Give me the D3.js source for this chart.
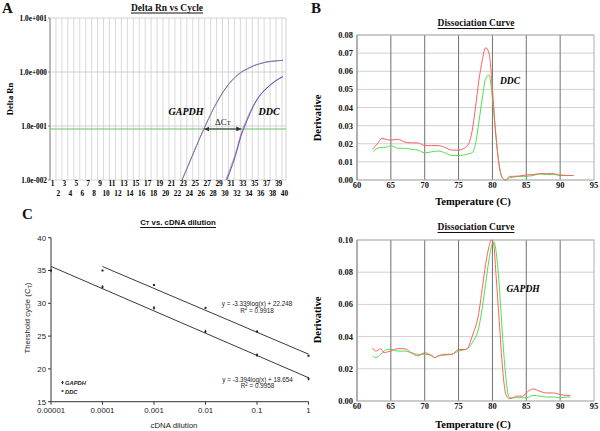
<!DOCTYPE html>
<html><head><meta charset="utf-8">
<script src="https://cdn.jsdelivr.net/npm/d3@7"></script>
<style>body{margin:0;background:#fff}svg{display:block}text{-webkit-font-smoothing:antialiased}</style>
</head><body>
<script>
// ---------- Panel A data ----------
const cycleTicks = d3.range(1, 41);
const gapdhCyc = [22.5, 23, 24, 25, 26, 27, 28, 29, 30, 31, 32, 33, 34, 35, 36, 37, 38, 39, 40];
const gapdhRn1 = [0.0075, 0.010, 0.018, 0.033, 0.060, 0.105, 0.18, 0.29, 0.44, 0.62, 0.82, 1.00, 1.15, 1.30, 1.42, 1.52, 1.58, 1.62, 1.65];
const gapdhRn2 = [0.0074, 0.0098, 0.0177, 0.0325, 0.059, 0.104, 0.178, 0.288, 0.438, 0.615, 0.81, 0.99, 1.14, 1.29, 1.41, 1.51, 1.57, 1.61, 1.64];
const ddcCyc = [30, 31, 32, 33, 34, 35, 36, 37, 38, 39, 40];
const ddcRn1 = [0.0080, 0.0150, 0.031, 0.075, 0.14, 0.24, 0.36, 0.48, 0.60, 0.72, 0.83];
const ddcRn2 = [0.0070, 0.0135, 0.028, 0.068, 0.13, 0.23, 0.35, 0.47, 0.59, 0.71, 0.82];
const rnTicks = [10, 1, 0.1, 0.01];
const rnTickLabels = ["1.0e+001", "1.0e+000", "1.0e-001", "1.0e-002"];
const threshold = 0.088;
const ctGapdh = 26.6, ctDdc = 33.15;

// ---------- Panel B data ----------
const tempTicks = [60, 65, 70, 75, 80, 85, 90, 95];
const ddcTemp = [62.3,63,63.7,64.5,65,66,67,68,69,70,71,72,73,74,75,76,76.5,77,77.5,78,78.5,79,79.5,80,80.5,81,81.5,82,82.5,83,84,85,86,87,88,89,90,91,92];
const ddcDerivRed = [0.017,0.020,0.023,0.0222,0.022,0.0225,0.021,0.0205,0.0205,0.019,0.019,0.019,0.018,0.0165,0.0165,0.018,0.020,0.027,0.040,0.055,0.066,0.073,0.070,0.050,0.025,0.008,0.001,0.000,0.002,0.002,0.0022,0.0028,0.003,0.0035,0.0035,0.0035,0.0025,0.0025,0.0025];
const ddcDerivGreen = [0.0155,0.0175,0.018,0.0182,0.019,0.0175,0.0175,0.017,0.0165,0.015,0.0155,0.016,0.015,0.0135,0.0135,0.014,0.0145,0.015,0.020,0.032,0.045,0.056,0.058,0.045,0.025,0.008,0.001,0.000,0.0012,0.0015,0.002,0.002,0.0025,0.0033,0.003,0.003,0.0028,0.0025,0.0025];
const ddcDerivTicks = [0, 0.01, 0.02, 0.03, 0.04, 0.05, 0.06, 0.07, 0.08];

const gapdhTemp = [62.3,62.8,63.5,64,64.5,65,66,67,68,69,70,71,71.5,72,73,74,75,76,76.5,77,78,78.5,79,79.5,79.8,80.2,80.5,81,81.5,82,82.5,83,83.5,84,84.5,85,86,87,88,89,90,91,91.5];
const gapdhDerivRed = [0.033,0.031,0.0325,0.030,0.0305,0.031,0.0325,0.0325,0.030,0.028,0.030,0.028,0.027,0.028,0.029,0.029,0.032,0.032,0.034,0.040,0.055,0.070,0.085,0.096,0.100,0.097,0.080,0.050,0.020,0.004,0.0015,0.002,0.003,0.003,0.003,0.005,0.0075,0.006,0.005,0.005,0.004,0.0035,0.0035];
const gapdhDerivGreen = [0.028,0.027,0.029,0.031,0.032,0.032,0.031,0.031,0.030,0.029,0.029,0.0285,0.027,0.028,0.0285,0.029,0.031,0.032,0.033,0.036,0.046,0.058,0.073,0.088,0.095,0.099,0.094,0.072,0.040,0.014,0.002,0.002,0.002,0.002,0.002,0.002,0.0035,0.003,0.0025,0.0025,0.002,0.0025,0.0025];
const gapdhDerivTicks = [0, 0.02, 0.04, 0.06, 0.08, 0.10];

// ---------- Panel C data ----------
const dilutions = [0.00001, 0.0001, 0.001, 0.01, 0.1, 1];
const dilutionLabels = ["0.00001", "0.0001", "0.001", "0.01", "0.1", "1"];
const ctTicks = [15, 20, 25, 30, 35, 40];
const gapdhCt = [35.0, 32.5, 29.3, 25.7, 22.1, 18.5];
const ddcCt = [null, 35.0, 32.8, 29.3, 25.7, 22.0];
const ddcFit = {slope: -3.339, intercept: 22.248, r2: "0.9918", from: 0.0001, to: 1};
const gapdhFit = {slope: -3.394, intercept: 18.654, r2: "0.9958", from: 0.00001, to: 1};

const serif = "'Liberation Serif', 'Times New Roman', serif";
const sans = "'Liberation Sans', Arial, sans-serif";

const svg = d3.select("body").append("svg").attr("width", 600).attr("height", 431);
const defs = svg.append("defs");

function underlinedTitle(x, y, font, size) {
  return svg.append("text").attr("x", x).attr("y", y).attr("text-anchor", "middle")
    .attr("font-family", font).attr("font-size", size).attr("font-weight", "bold").attr("fill", "#111");
}
function drawUnderline(t) {
  const b = t.node().getBBox();
  svg.append("line").attr("x1", b.x).attr("x2", b.x + b.width)
    .attr("y1", b.y + b.height + 0.5).attr("y2", b.y + b.height + 0.5)
    .attr("stroke", "#111").attr("stroke-width", 1);
}
function panelLetter(x, y, l) {
  svg.append("text").attr("x", x).attr("y", y).attr("font-family", serif)
    .attr("font-size", 15).attr("font-weight", "bold").attr("fill", "#111").text(l);
}

// ================= PANEL A =================
{
  const L = 50, R = 286, T = 18, B = 180;
  const x = d3.scaleLinear().domain([1, 40]).range([51, 283]);
  const y = d3.scaleLog().domain([0.01, 10]).range([B, T]);
  const g = svg.append("g");
  defs.append("clipPath").attr("id", "clipA")
    .append("rect").attr("x", L).attr("y", T).attr("width", R - L).attr("height", B - T);
  g.selectAll("line.vg").data(cycleTicks).join("line").attr("class", "vg")
    .attr("x1", d => x(d) - 1).attr("x2", d => x(d) - 1).attr("y1", T).attr("y2", B)
    .attr("stroke", "#cfcfcf").attr("stroke-width", 0.8);
  g.append("line").attr("x1", R).attr("x2", R).attr("y1", T).attr("y2", B).attr("stroke", "#cfcfcf");
  g.selectAll("line.hg").data(rnTicks).join("line").attr("class", "hg")
    .attr("x1", L).attr("x2", R).attr("y1", d => y(d)).attr("y2", d => y(d))
    .attr("stroke", "#c8c8c8").attr("stroke-width", 0.8);
  g.append("line").attr("x1", L).attr("x2", L).attr("y1", T).attr("y2", B).attr("stroke", "#888");
  g.selectAll("text.yl").data(rnTicks).join("text").attr("class", "yl")
    .attr("x", L - 3).attr("y", d => y(d) + 2.5).attr("text-anchor", "end")
    .attr("font-family", serif).attr("font-size", 7.3).attr("font-weight", "bold").attr("fill", "#000")
    .text((d, i) => rnTickLabels[i]);
  g.selectAll("line.yt").data(rnTicks).join("line").attr("class", "yt")
    .attr("x1", L - 2).attr("x2", L).attr("y1", d => y(d)).attr("y2", d => y(d)).attr("stroke", "#888");
  g.selectAll("text.xl").data(cycleTicks).join("text").attr("class", "xl")
    .attr("x", d => x(d) + 1.5).attr("y", d => d % 2 === 1 ? 186 : 196).attr("text-anchor", "middle")
    .attr("font-family", serif).attr("font-size", 7.3).attr("font-weight", "bold").attr("fill", "#000")
    .text(d => d);
  g.append("line").attr("x1", L).attr("x2", R).attr("y1", y(threshold)).attr("y2", y(threshold))
    .attr("stroke", "#6cc06c").attr("stroke-width", 1);
  const line = (xs) => d3.line().x((d, i) => x(xs[i])).y(d => y(d)).curve(d3.curveMonotoneX);
  const cg = g.append("g").attr("clip-path", "url(#clipA)").attr("fill", "none").attr("stroke-width", 1);
  cg.append("path").attr("d", line(gapdhCyc)(gapdhRn1)).attr("stroke", "#c890b0");
  cg.append("path").attr("d", line(gapdhCyc)(gapdhRn2)).attr("stroke", "#7878a8");
  cg.append("path").attr("d", line(ddcCyc)(ddcRn1)).attr("stroke", "#c890b0");
  cg.append("path").attr("d", line(ddcCyc)(ddcRn2)).attr("stroke", "#5a5ac0");
  defs.append("marker").attr("id", "ah").attr("viewBox", "0 0 10 10").attr("refX", 10).attr("refY", 5)
    .attr("markerWidth", 5).attr("markerHeight", 5).attr("orient", "auto-start-reverse")
    .append("path").attr("d", "M0,0 L10,5 L0,10 z").attr("fill", "#333");
  g.append("line").attr("x1", x(ctGapdh) + 1).attr("x2", x(ctDdc) - 1)
    .attr("y1", y(threshold)).attr("y2", y(threshold)).attr("stroke", "#333").attr("stroke-width", 1)
    .attr("marker-start", "url(#ah)").attr("marker-end", "url(#ah)");
  const dt = g.append("text").attr("x", (x(ctGapdh) + x(ctDdc)) / 2).attr("y", y(threshold) - 4)
    .attr("text-anchor", "middle").attr("font-family", serif).attr("font-size", 9).attr("fill", "#111");
  dt.append("tspan").text("ΔC");
  dt.append("tspan").attr("font-size", 6.5).text("T");
  g.append("text").attr("x", 186).attr("y", 115).attr("text-anchor", "middle")
    .attr("font-family", serif).attr("font-size", 10).attr("font-weight", "bold").attr("font-style", "italic").text("GAPDH");
  g.append("text").attr("x", 269).attr("y", 115).attr("text-anchor", "middle")
    .attr("font-family", serif).attr("font-size", 10).attr("font-weight", "bold").attr("font-style", "italic").text("DDC");
  g.append("text").attr("transform", "translate(13,99) rotate(-90)").attr("text-anchor", "middle")
    .attr("font-family", serif).attr("font-size", 8.5).attr("font-weight", "bold").text("Delta Rn");
  const tA = underlinedTitle(167, 10.5, serif, 9.5).text("Delta Rn vs Cycle");
  drawUnderline(tA);
  panelLetter(2, 13, "A");
}

// ================= PANEL B =================
function dissoc(top, bottom, domainMax, ticks, temps, red, green, titleY, geneLabel, gx, gy, xlabY, ylabY) {
  const L = 357, R = 594;
  const x = d3.scaleLinear().domain([60, 95]).range([L, R]);
  const y = d3.scaleLinear().domain([0, domainMax]).range([bottom, top]);
  const g = svg.append("g");
  g.selectAll("line.hg").data(ticks).join("line").attr("class", "hg")
    .attr("x1", L).attr("x2", R).attr("y1", d => y(d)).attr("y2", d => y(d))
    .attr("stroke", "#d0d0d0").attr("stroke-width", 1);
  g.selectAll("line.vg").data(tempTicks.slice(1, -1)).join("line").attr("class", "vg")
    .attr("x1", d => x(d)).attr("x2", d => x(d)).attr("y1", top).attr("y2", bottom)
    .attr("stroke", "#707070").attr("stroke-width", 1);
  g.append("rect").attr("x", L).attr("y", top).attr("width", R - L).attr("height", bottom - top)
    .attr("fill", "none").attr("stroke", "#b0b0b0");
  g.append("line").attr("x1", L).attr("x2", L).attr("y1", top).attr("y2", bottom).attr("stroke", "#888");
  g.selectAll("text.yl").data(ticks).join("text").attr("class", "yl")
    .attr("x", L - 4).attr("y", d => y(d) + 3).attr("text-anchor", "end")
    .attr("font-family", serif).attr("font-size", 8.5).attr("font-weight", "bold").attr("fill", "#111")
    .text(d => d3.format(".2f")(d));
  g.selectAll("text.xl").data(tempTicks).join("text").attr("class", "xl")
    .attr("x", d => x(d)).attr("y", bottom + 8).attr("text-anchor", "middle")
    .attr("font-family", serif).attr("font-size", 8.5).attr("font-weight", "bold").attr("fill", "#111")
    .text(d => d);
  const line = d3.line().x((d, i) => x(temps[i])).y(d => y(d)).curve(d3.curveMonotoneX);
  g.append("path").attr("d", line(green)).attr("fill", "none").attr("stroke", "#4ee04e").attr("stroke-width", 1);
  g.append("path").attr("d", line(red)).attr("fill", "none").attr("stroke", "#ff6060").attr("stroke-width", 1);
  g.append("text").attr("x", gx).attr("y", gy).attr("text-anchor", "middle")
    .attr("font-family", serif).attr("font-size", 9.5).attr("font-weight", "bold").attr("font-style", "italic").text(geneLabel);
  g.append("text").attr("x", 473).attr("y", xlabY).attr("text-anchor", "middle")
    .attr("font-family", serif).attr("font-size", 10.5).attr("font-weight", "bold").text("Temperature (C)");
  g.append("text").attr("transform", `translate(321,${ylabY}) rotate(-90)`).attr("text-anchor", "middle")
    .attr("font-family", serif).attr("font-size", 10.5).attr("font-weight", "bold").text("Derivative");
  const t = underlinedTitle(476, titleY, serif, 9.5).text("Dissociation Curve");
  drawUnderline(t);
}
dissoc(35, 180, 0.08, ddcDerivTicks, ddcTemp, ddcDerivRed, ddcDerivGreen, 26, "DDC", 510, 84, 205, 118);
dissoc(240, 401, 0.10, gapdhDerivTicks, gapdhTemp, gapdhDerivRed, gapdhDerivGreen, 230, "GAPDH", 523, 292, 428, 320);
panelLetter(311, 13, "B");

// ================= PANEL C =================
{
  const L = 51, T = 237.7, B = 401.7, R = 308.5;
  const x = d3.scaleLog().domain([0.00001, 1]).range([L, R]);
  const y = d3.scaleLinear().domain([15, 40]).range([B, T]);
  const g = svg.append("g");
  g.append("line").attr("x1", L).attr("x2", L).attr("y1", T).attr("y2", B).attr("stroke", "#333");
  g.append("line").attr("x1", L).attr("x2", R).attr("y1", B).attr("y2", B).attr("stroke", "#333");
  g.selectAll("line.yt").data(ctTicks).join("line").attr("class", "yt")
    .attr("x1", L - 3).attr("x2", L).attr("y1", d => y(d)).attr("y2", d => y(d)).attr("stroke", "#333");
  g.selectAll("text.yl").data(ctTicks).join("text").attr("class", "yl")
    .attr("x", L - 5).attr("y", d => y(d) + 2.8).attr("text-anchor", "end")
    .attr("font-family", sans).attr("font-size", 7.8).attr("fill", "#222").text(d => d);
  g.selectAll("line.xt").data(dilutions).join("line").attr("class", "xt")
    .attr("x1", d => x(d)).attr("x2", d => x(d)).attr("y1", B).attr("y2", B + 3).attr("stroke", "#333");
  g.selectAll("text.xl").data(dilutions).join("text").attr("class", "xl")
    .attr("x", d => x(d)).attr("y", B + 11).attr("text-anchor", "middle")
    .attr("font-family", sans).attr("font-size", 7.8).attr("fill", "#222").text((d, i) => dilutionLabels[i]);
  [ddcFit, gapdhFit].forEach(f => {
    const pts = [f.from, f.to].map(v => [x(v), y(f.slope * Math.log10(v) + f.intercept)]);
    g.append("path").attr("d", d3.line()(pts)).attr("stroke", "#222").attr("stroke-width", 0.9).attr("fill", "none");
  });
  g.selectAll("path.gp").data(dilutions).join("path").attr("class", "gp")
    .attr("transform", (d, i) => `translate(${x(d)},${y(gapdhCt[i])})`)
    .attr("d", d3.symbol().type(d3.symbolDiamond).size(5)).attr("fill", "#222");
  const ddcPts = dilutions.map((d, i) => [d, ddcCt[i]]).filter(p => p[1] !== null);
  g.selectAll("path.dp").data(ddcPts).join("path").attr("class", "dp")
    .attr("transform", p => `translate(${x(p[0])},${y(p[1])})`)
    .attr("d", d3.symbol().type(d3.symbolSquare).size(4)).attr("fill", "#222");
  const eq = (cx, cy, f) => {
    g.append("text").attr("x", cx).attr("y", cy).attr("text-anchor", "middle")
      .attr("font-family", sans).attr("font-size", 6.3).attr("fill", "#222")
      .text(`y = ${f.slope}log(x) + ${f.intercept}`);
    const r = g.append("text").attr("x", cx).attr("y", cy + 6.5).attr("text-anchor", "middle")
      .attr("font-family", sans).attr("font-size", 6.3).attr("fill", "#222");
    r.append("tspan").text("R");
    r.append("tspan").attr("font-size", 4.5).attr("dy", -2.5).text("2");
    r.append("tspan").attr("dy", 2.5).text(` = ${f.r2}`);
  };
  eq(257, 306, ddcFit);
  eq(257.5, 381.5, gapdhFit);
  g.append("path").attr("transform", "translate(62.5,382.5)").attr("d", d3.symbol().type(d3.symbolDiamond).size(5)).attr("fill", "#222");
  g.append("text").attr("x", 65).attr("y", 385).attr("font-family", sans).attr("font-size", 5.8)
    .attr("font-weight", "bold").attr("font-style", "italic").attr("fill", "#222").text("GAPDH");
  g.append("path").attr("transform", "translate(62.5,391)").attr("d", d3.symbol().type(d3.symbolSquare).size(3)).attr("fill", "#222");
  g.append("text").attr("x", 65).attr("y", 393.5).attr("font-family", sans).attr("font-size", 5.8)
    .attr("font-weight", "bold").attr("font-style", "italic").attr("fill", "#222").text("DDC");
  g.append("text").attr("x", 174).attr("y", 428).attr("text-anchor", "middle")
    .attr("font-family", sans).attr("font-size", 7.8).attr("fill", "#222").text("cDNA dilution");
  const yl = g.append("text").attr("transform", "translate(30,318) rotate(-90)").attr("text-anchor", "middle")
    .attr("font-family", sans).attr("font-size", 7.8).attr("fill", "#222");
  yl.append("tspan").text("Thershold cycle (C");
  yl.append("tspan").attr("font-size", 5.5).attr("dy", 1.5).text("T");
  yl.append("tspan").attr("dy", -1.5).text(")");
  const tC = svg.append("text").attr("x", 178).attr("y", 225).attr("text-anchor", "middle")
    .attr("font-family", sans).attr("font-size", 7.8).attr("font-weight", "bold").attr("fill", "#111");
  tC.append("tspan").text("C");
  tC.append("tspan").attr("font-size", 5.8).text("T");
  tC.append("tspan").text(" vs. cDNA dilution");
  drawUnderline(tC);
  panelLetter(22, 219, "C");
}
</script>
</body></html>
